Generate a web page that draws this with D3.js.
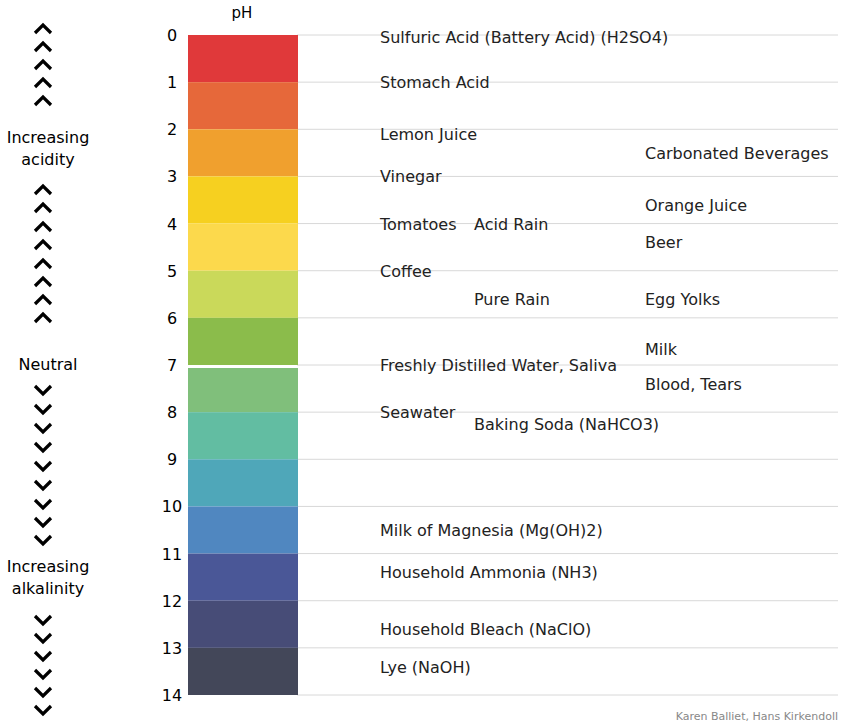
<!DOCTYPE html><html><head><meta charset="utf-8"><script src="https://cdn.jsdelivr.net/npm/d3@7"></script>
<style>body{margin:0;background:#fff}text{font-family:"DejaVu Sans",sans-serif}</style></head><body>
<script>
const phTicks=[0,1,2,3,4,5,6,7,8,9,10,11,12,13,14];
const bandColors=["#e0393a","#e6683a","#f0a02e","#f6d020","#fcd94c","#cad95a","#8bbc4b","#80bf7b","#62bda2","#4fa7b9","#5087c0","#4a5797","#474c77","#434759"];
const substances=["Sulfuric Acid (Battery Acid) (H2SO4)","Stomach Acid","Lemon Juice","Carbonated Beverages","Vinegar","Orange Juice","Tomatoes","Acid Rain","Beer","Coffee","Pure Rain","Egg Yolks","Milk","Freshly Distilled Water, Saliva","Blood, Tears","Seawater","Baking Soda (NaHCO3)","Milk of Magnesia (Mg(OH)2)","Household Ammonia (NH3)","Household Bleach (NaClO)","Lye (NaOH)"];
const substancePH=[0.05,1.0,2.1,2.5,3.0,3.6,4.0,4.0,4.4,5.0,5.6,5.6,6.65,7.0,7.4,8.0,8.25,10.5,11.4,12.6,13.4];
const substanceCol=[0,0,0,2,0,2,0,1,2,0,1,2,2,0,2,0,1,0,0,0,0];
const upChevrons=[29,47,65,83,101,190,208,227,245,264,282,300,318];
const downChevrons=[390,409,428,447,466,485,504,522,540,620,638,656,674,692,710];
const W=859,H=725;
const svg=d3.select("body").append("svg").attr("width",W).attr("height",H);
const y=d3.scaleLinear().domain([0,14]).range([35,695]);
const colX=[380,474,645];
// grid
svg.selectAll(".g").data(phTicks).join("line").attr("x1",297).attr("x2",838).attr("y1",d=>y(d)).attr("y2",d=>y(d)).attr("stroke","#d8d8d8");
// bars
svg.selectAll(".b").data(bandColors).join("rect").attr("x",188).attr("width",110)
 .attr("y",(d,i)=>y(i)+(i==7?3:0)).attr("height",(d,i)=>y(i+1)-y(i)-(i==6?0:0)-(i==7?3:0)).attr("fill",d=>d);
svg.append("text").attr("x",242).attr("y",18).attr("text-anchor","middle").attr("font-size",15).text("pH");
svg.selectAll(".t").data(phTicks).join("text").attr("x",172).attr("y",d=>y(d)+6).attr("text-anchor","middle").attr("font-size",16).text(d=>d);
svg.selectAll(".s").data(substances).join("text").attr("x",(d,i)=>colX[substanceCol[i]]).attr("y",(d,i)=>y(substancePH[i])+6)
 .attr("font-size",16).attr("fill","#222").text(d=>d);
// chevrons
const chev=(yy,up)=>`M35,${yy+(up?4:-4)} L43,${yy+(up?-4:4)} L51,${yy+(up?4:-4)}`;
svg.selectAll(".u").data(upChevrons).join("path").attr("d",d=>chev(d,true)).attr("fill","none").attr("stroke","#000").attr("stroke-width",3.2);
svg.selectAll(".dn").data(downChevrons).join("path").attr("d",d=>chev(d,false)).attr("fill","none").attr("stroke","#000").attr("stroke-width",3.2);
const side=[["Increasing",143],["acidity",165],["Neutral",370],["Increasing",572],["alkalinity",594]];
svg.selectAll(".sd").data(side).join("text").attr("x",48).attr("y",d=>d[1]).attr("text-anchor","middle").attr("font-size",16).text(d=>d[0]);
svg.append("text").attr("x",838).attr("y",720).attr("text-anchor","end").attr("font-size",11).attr("fill","#888").text("Karen Balliet, Hans Kirkendoll");
</script></body></html>
